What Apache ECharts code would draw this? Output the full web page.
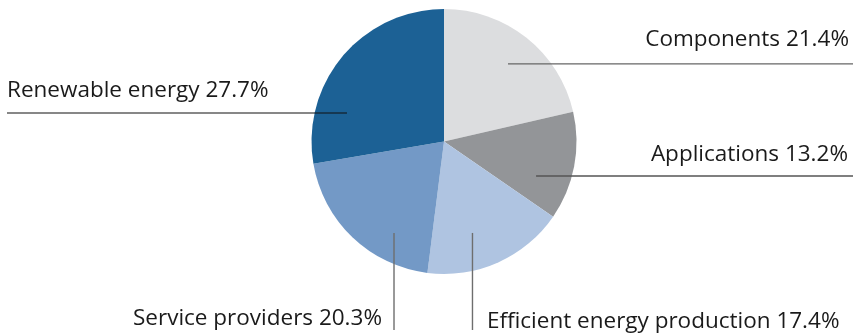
<!DOCTYPE html>
<html><head><meta charset="utf-8">
<script src="https://cdn.jsdelivr.net/npm/echarts@6/dist/echarts.min.js"></script>
<style>html,body{margin:0;padding:0;background:#fff}#c{width:861px;height:336px}</style>
</head><body><div id="c"></div>
<script>
var categories = ['Components', 'Applications', 'Efficient energy production', 'Service providers', 'Renewable energy'];
var shares = [21.4, 13.2, 17.4, 20.3, 27.7];
var colors = ['#dcdddf', '#939598', '#afc4e1', '#7399c6', '#1c6195'];
var lineColors = ['#666666', '#555555', '#6e6e6e', '#6e6e6e', '#111111'];

// layout of the leader lines (where inside the slice they start, and where the label sits)
var CX = 444, CY = 141.5, R = 132.5;
var leaders = [
  {frac: 0.513, ra: 0.759, dir: 'right', end: 853, tx: 849, base: 47},
  {frac: 0.705, ra: 0.742, dir: 'right', end: 853, tx: 848, base: 162},
  {frac: 0.609, ra: 0.723, dir: 'down', end: 330, tx: 487, base: 329},
  {frac: 0.2935, ra: 0.787, dir: 'down', end: 330, tx: 382, base: 326},
  {frac: 0.2616, ra: 0.763, dir: 'left', end: 7, tx: 7, base: 98}
];
var total = shares.reduce(function(a, b){ return a + b; }, 0);
var starts = []; var acc = 0;
shares.forEach(function(v){ starts.push(acc); acc += v; });

var pieData = categories.map(function(c, i){ return {name: c, value: shares[i], itemStyle: {color: colors[i]}}; });
var labelData = categories.map(function(c, i){
  return {name: c, value: shares[i], itemStyle: {color: 'rgba(0,0,0,0)'},
          labelLine: {lineStyle: {color: lineColors[i], width: i === 4 ? 1.2 : 1.4}}};
});

var chart = echarts.init(document.getElementById('c'), null, {renderer: 'canvas'});
chart.setOption({
  animation: false,
  series: [{
    type: 'pie',
    z: 1,
    center: [CX, CY],
    radius: R,
    startAngle: 90,
    clockwise: true,
    silent: true,
    itemStyle: {borderWidth: 0},
    emphasis: {disabled: true},
    label: {show: false},
    labelLine: {show: false},
    data: pieData
  }, {
    type: 'pie',
    z: 5,
    center: [CX, CY],
    radius: R,
    startAngle: 90,
    clockwise: true,
    silent: true,
    avoidLabelOverlap: false,
    itemStyle: {borderWidth: 0},
    emphasis: {disabled: true},
    label: {
      show: true,
      position: 'outside',
      fontFamily: 'Open Sans',
      fontSize: 22.5,
      color: '#1a1a1a',
      formatter: function(p){ return p.name + ' ' + p.value.toFixed(1) + '%'; }
    },
    labelLine: {show: true, showAbove: true},
    labelLayout: function(p){
      var i = p.dataIndex, L = leaders[i];
      var ang = (starts[i] + L.frac * shares[i]) / total * 2 * Math.PI;
      var ax = CX + R * L.ra * Math.sin(ang), ay = CY - R * L.ra * Math.cos(ang);
      var pts, x, align;
      if (L.dir === 'right') { pts = [[ax, ay], [L.end, ay], [L.end, ay]]; x = L.tx; align = 'right'; }
      else if (L.dir === 'left') { pts = [[ax, ay], [L.end, ay], [L.end, ay]]; x = L.tx; align = 'left'; }
      else { pts = [[ax, ay], [ax, L.end], [ax, L.end]]; x = L.tx; align = (L.tx > ax ? 'left' : 'right'); }
      return {x: x, y: L.base - 7, align: align, verticalAlign: 'middle', labelLinePoints: pts};
    },
    data: labelData
  }]
});
</script></body></html>
